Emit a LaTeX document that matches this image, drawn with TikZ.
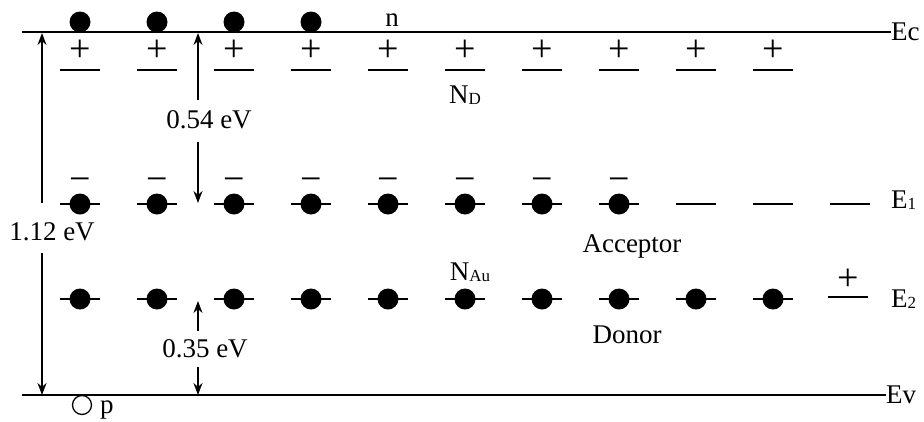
\documentclass[tikz,border=0pt]{standalone}
\usepackage{fontspec}
\setmainfont{Liberation Serif}
\usetikzlibrary{arrows.meta}
\newcommand{\lowsub}[1]{\raisebox{-1pt}{\fontsize{17}{17}\selectfont #1}}
\begin{document}
\begin{tikzpicture}[x=1pt,y=-1pt,
  txt/.style={font=\fontsize{27}{30}\selectfont, inner sep=0pt},
  sgn/.style={font=\fontsize{38}{38}\selectfont, inner sep=0pt},
  band/.style={line width=2.5pt},
  lvl/.style={line width=2.6pt},
  elec/.style={circle, fill=black, minimum size=21pt, inner sep=0pt},
  hole/.style={circle, draw=black, line width=1.3pt, minimum size=19pt, inner sep=0pt},
  dim/.style={line width=1.5pt, -{Stealth[length=12pt,width=9pt]}},
]
\useasboundingbox (0,0) rectangle (924,421);

% conduction and valence band edges
\coordinate (ecL) at (22,32);
\coordinate (evL) at (22,395);
\node[txt, anchor=base west] (ec) at (891,40) {Ec};
\node[txt, anchor=base west] (ev) at (886,403) {Ev};
\draw[band] (ecL) -- (ec.west |- ecL);
\draw[band] (evL) -- (ev.west |- evL);

% free electrons in the conduction band
\foreach \i in {0,...,3} {
  \node[elec] (n\i) at ({80+77*\i},22) {};
}
\node[txt, anchor=base] (nlab) at (392,26) {n};

% ionised donor levels N_D
\foreach \i in {0,...,9} {
  \coordinate (dl\i) at ({80+77*\i-20},70);
  \coordinate (dr\i) at ({80+77*\i+20},70);
  \draw[lvl] (dl\i) -- (dr\i);
  \node[sgn] (dp\i) at ({80+77*\i},51) {+};
}
\node[txt, anchor=base] (nd) at (465,103) {N\lowsub{D}};

% gold acceptor level E1
\foreach \i in {0,...,10} {
  \coordinate (al\i) at ({80+77*\i-20},204);
  \coordinate (ar\i) at ({80+77*\i+20},204);
  \draw[lvl] (al\i) -- (ar\i);
}
\foreach \i in {0,...,7} {
  \node[elec] (ae\i) at ({80+77*\i},204) {};
  \node[sgn] (am\i) at ({80+77*\i},185) {−};
}
\node[txt, anchor=base west] (e1) at (891,208) {E\lowsub{1}};
\node[txt, anchor=base] (acc) at (632,252) {Acceptor};

% gold donor level E2
\foreach \i in {0,...,9} {
  \coordinate (bl\i) at ({80+77*\i-20},299);
  \coordinate (br\i) at ({80+77*\i+20},299);
  \draw[lvl] (bl\i) -- (br\i);
  \node[elec] (be\i) at ({80+77*\i},299) {};
}
\coordinate (bl10) at (828,297);
\coordinate (br10) at (868,297);
\draw[lvl] (bl10) -- (br10);
\node[sgn] (bp10) at (848,280) {+};
\node[txt, anchor=base west] (e2) at (891,307) {E\lowsub{2}};
\node[txt, anchor=base] (nau) at (470,280) {N\lowsub{Au}};
\node[txt, anchor=base] (don) at (627,343) {Donor};

% hole in the valence band
\node[hole] (hole) at (82,405) {};
\node[txt, anchor=base west] (plab) at (100,413) {p};

% band gap 1.12 eV
\node[txt, anchor=base] (g112) at (52,240) {1.12 eV};
\coordinate (g112t) at (42,33);
\coordinate (g112u) at (42,203);
\coordinate (g112d) at (42,253);
\coordinate (g112b) at (42,395);
\draw[dim] (g112u) -- (g112t);
\draw[dim] (g112d) -- (g112b);

% E_c - E_1 = 0.54 eV
\node[txt, anchor=base] (g054) at (209,128) {0.54 eV};
\coordinate (g054t) at (198,33);
\coordinate (g054u) at (198,100);
\coordinate (g054d) at (198,142);
\coordinate (g054b) at (198,203);
\draw[dim] (g054u) -- (g054t);
\draw[dim] (g054d) -- (g054b);

% E_2 - E_v = 0.35 eV
\node[txt, anchor=base] (g035) at (205,357) {0.35 eV};
\coordinate (g035t) at (198,301);
\coordinate (g035u) at (198,331);
\coordinate (g035d) at (198,367);
\coordinate (g035b) at (198,395);
\draw[dim] (g035u) -- (g035t);
\draw[dim] (g035d) -- (g035b);
\end{tikzpicture}
\end{document}
